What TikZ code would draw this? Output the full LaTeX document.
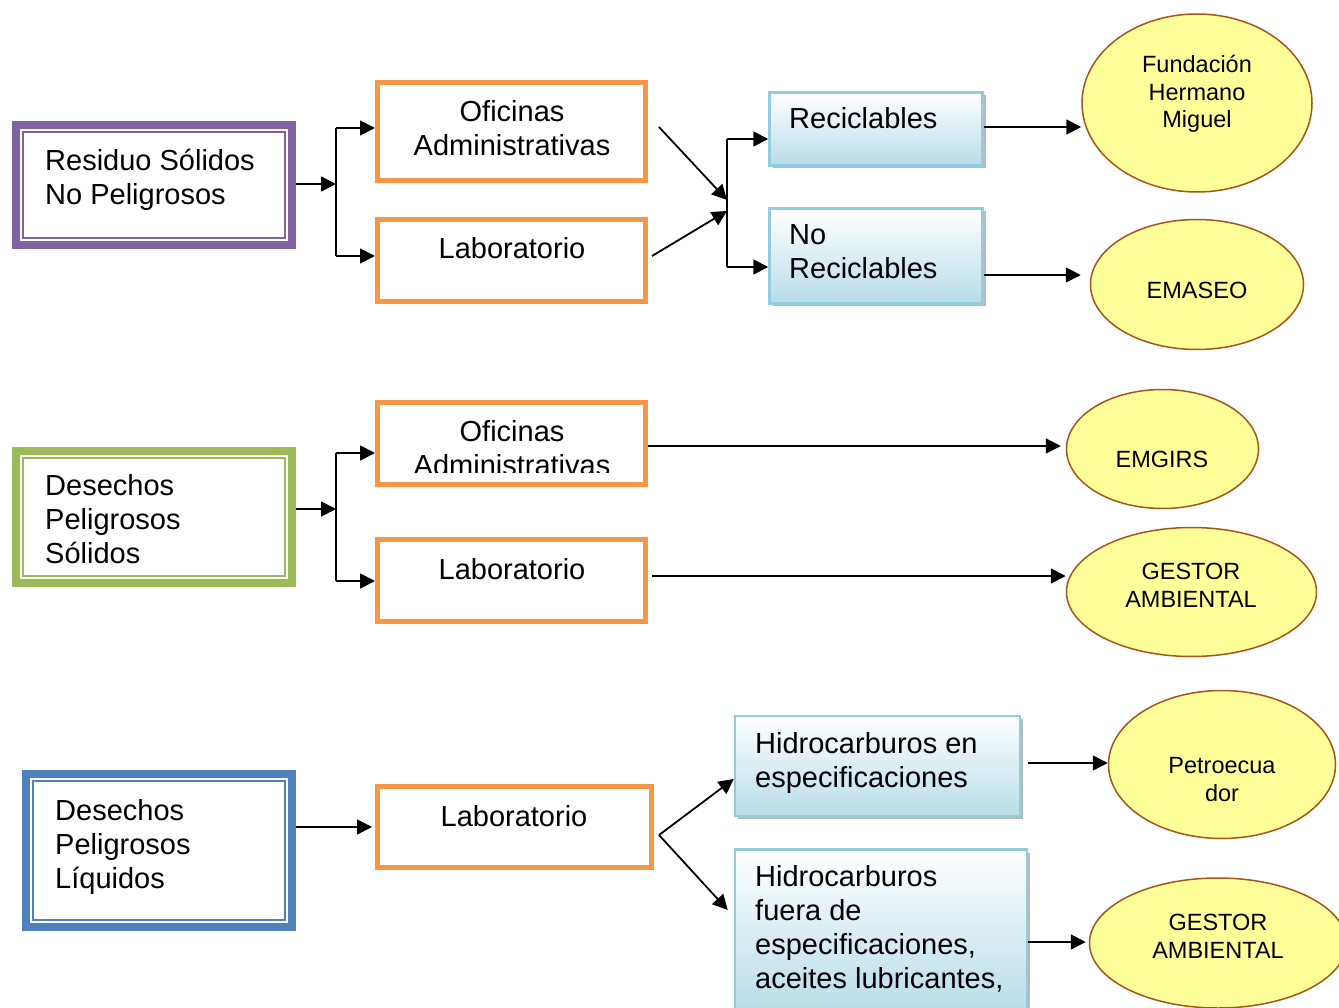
\documentclass[tikz,border=0pt]{standalone}
\usepackage{fontspec}
\setmainfont{Liberation Sans}
\usetikzlibrary{arrows.meta,calc,shadows,shapes.geometric}
\definecolor{cpurple}{HTML}{8064A2}
\definecolor{cgreen}{HTML}{9BBB59}
\definecolor{cblue}{HTML}{4F81BD}
\definecolor{corange}{HTML}{F79646}
\definecolor{cyellow}{HTML}{FFFF99}
\definecolor{cbrown}{HTML}{A5561A}
\definecolor{cbord}{HTML}{93CDDD}
\definecolor{cgrad}{HTML}{B7DDE8}
\begin{document}
\begin{tikzpicture}[x=1pt,y=-1pt,
  arr/.style={line width=1.8pt,-{Triangle[length=15pt,width=15pt]}},
  ln/.style={line width=1.8pt},
  obox/.style={draw=corange,line width=5pt,inner sep=0pt,minimum width=268pt,minimum height=82pt},
  dbox/.style={draw=#1,line width=8pt,inner sep=0pt},
  gbox/.style={draw=cbord,line width=2.5pt,top color=white,bottom color=cgrad,inner sep=0pt,
    drop shadow={shadow xshift=3pt,shadow yshift=-3pt,fill=black!45,opacity=0.6}},
  ell/.style={ellipse,draw=cbrown,fill=cyellow,line width=1.5pt,inner sep=0pt},
  bt/.style={font=\fontsize{29pt}{34pt}\selectfont,inner sep=0pt},
  st/.style={font=\fontsize{23.5pt}{27.5pt}\selectfont,inner sep=0pt,align=center,anchor=base},
]
\clip (0,0) rectangle (1339,1008);
\fill[white] (0,0) rectangle (1339,1008);

% ---------- group 1 ----------
\node[dbox=cpurple,minimum width=276pt,minimum height=120pt] (rs) at (154,185) {};
\draw[cpurple,line width=2.5pt] ($(rs.north west)+(11,11)$) rectangle ($(rs.south east)+(-11,-11)$);
\node[obox,minimum height=98pt] (ofi1) at (511.5,131.5) {};
\node[obox] (lab1) at (511.5,260.5) {};
\node[gbox,minimum width=213pt,minimum height=73pt] (rec) at (876,129) {};
\node[gbox,minimum width=213pt,minimum height=95pt] (norec) at (876,256) {};
\node[ell,minimum width=230pt,minimum height=178pt] (fhm) at (1197,103) {};
\node[ell,minimum width=213pt,minimum height=130pt] (emaseo) at (1197,284.5) {};

\node[bt,align=left,anchor=base west] (trs) at (45,205) {Residuo Sólidos\\No Peligrosos};
\node[bt,align=center,anchor=base] (tofi1) at (512,156) {Oficinas\\Administrativas};
\node[bt,anchor=base] (tlab1) at (512,259) {Laboratorio};
\node[bt,align=left,anchor=base west] (trec) at (789,129) {Reciclables};
\node[bt,align=left,anchor=base west] (tnorec) at (789,279) {No\\Reciclables};
\node[st] (tfhm) at (1197,128) {Fundación\\Hermano\\Miguel};
\node[st] (temaseo) at (1197,299) {EMASEO};

\coordinate (t1) at (336,128);
\coordinate (t2) at (336,256);
\coordinate (j1) at (336,184);
\draw[ln] (t1) -- (t2);
\draw[arr] (rs.east |- j1) -- (j1);
\draw[arr] (t1) -- (t1 -| ofi1.west);
\draw[arr] (t2) -- (t2 -| lab1.west);

\coordinate (s1) at ($(ofi1.east)+(11,-4.5)$);
\coordinate (s2) at ($(lab1.east)+(4,-4.5)$);
\coordinate (t3) at (727,139);
\coordinate (t4) at (727,267);
\draw[arr] (s1) -- (727,200);
\draw[arr] (s2) -- (727,211);
\draw[ln] (t3) -- (t4);
\draw[arr] (t3) -- (t3 -| rec.west);
\draw[arr] (t4) -- (t4 -| norec.west);
\coordinate (r1) at ($(rec.east)+(0,-2)$);
\draw[arr] (r1) -- (r1 -| fhm.west);
\coordinate (n1) at ($(norec.east)+(0,19)$);
\draw[arr] (n1) -- ($(n1 -| emaseo.west)+(-9,0)$);

% ---------- group 2 ----------
\node[dbox=cgreen,minimum width=276pt,minimum height=132pt] (ds) at (154,517) {};
\draw[cgreen,line width=2.5pt] ($(ds.north west)+(11,11)$) rectangle ($(ds.south east)+(-11,-11)$);
\node[obox] (ofi2) at (511.5,443.5) {};
\node[obox] (lab2) at (511.5,580.5) {};
\node[ell,minimum width=192pt,minimum height=119pt] (emgirs) at (1162.5,449) {};
\node[ell,minimum width=250pt,minimum height=129pt] (gestor1) at (1191.5,592) {};

\node[bt,align=left,anchor=base west] (tds) at (45,563) {Desechos\\Peligrosos\\Sólidos};
\begin{scope}
\clip ($(ofi2.north west)+(5,5)$) rectangle ($(ofi2.south east)+(-5,-15)$);
\node[bt,align=center,anchor=base] (tofi2) at (512,475) {Oficinas\\Administrativas};
\end{scope}
\node[bt,anchor=base] (tlab2) at (512,579) {Laboratorio};
\node[st] (temgirs) at (1162,467) {EMGIRS};
\node[st] (tgestor1) at (1191,607) {GESTOR\\AMBIENTAL};

\coordinate (t5) at (336,453);
\coordinate (t6) at (336,581);
\coordinate (j3) at (336,509);
\draw[ln] (t5) -- (t6);
\draw[arr] (ds.east |- j3) -- (j3);
\draw[arr] (t5) -- (t5 -| ofi2.west);
\draw[arr] (t6) -- (t6 -| lab2.west);
\coordinate (o2) at ($(ofi2.east)+(0,2.5)$);
\draw[arr] (o2) -- ($(o2 -| emgirs.west)+(-5,0)$);
\coordinate (l2) at ($(lab2.east)+(4,-4.5)$);
\draw[arr] (l2) -- (l2 -| gestor1.west);

% ---------- group 3 ----------
\node[dbox=cblue,minimum width=266pt,minimum height=153pt] (dl) at (159,850.5) {};
\draw[cblue,line width=2.5pt] ($(dl.north west)+(11,11)$) rectangle ($(dl.south east)+(-11,-11)$);
\node[obox,minimum width=274pt,minimum height=81pt] (lab3) at (514.5,827) {};
\node[gbox,minimum width=285pt,minimum height=100pt] (hid1) at (877.5,766) {};
\node[gbox,minimum width=292pt,minimum height=163pt] (hid2) at (881,931) {};
\node[ell,minimum width=227pt,minimum height=148pt] (petro) at (1222,764.5) {};
\node[ell,minimum width=257pt,minimum height=130pt] (gestor2) at (1218,943) {};

\node[bt,align=left,anchor=base west] (tdl) at (55,888) {Desechos\\Peligrosos\\Líquidos};
\node[bt,anchor=base] (tlab3) at (514,826) {Laboratorio};
\node[bt,align=left,anchor=base west] (thid1) at (755,787) {Hidrocarburos en\\especificaciones};
\node[bt,align=left,anchor=base west] (thid2) at (755,988) {Hidrocarburos\\fuera de\\especificaciones,\\aceites lubricantes,};
\node[st] (tpetro) at (1222,801) {Petroecua\\dor};
\node[st] (tgestor2) at (1218,958) {GESTOR\\AMBIENTAL};

\draw[arr] (dl.east |- lab3.west) -- ($(lab3.west)+(-3,0)$);
\coordinate (s3) at ($(lab3.east)+(5,8)$);
\draw[arr] (s3) -- ($(hid1.west)+(0,13)$);
\draw[arr] (s3) -- ($(hid2.west)+(-6,-21)$);
\coordinate (p1) at ($(hid1.east)+(7,-3)$);
\draw[arr] (p1) -- (p1 -| petro.west);
\coordinate (p2) at ($(hid2.east)+(0,11)$);
\draw[arr] (p2) -- ($(p2 -| gestor2.west)+(-3,0)$);
\end{tikzpicture}
\end{document}
